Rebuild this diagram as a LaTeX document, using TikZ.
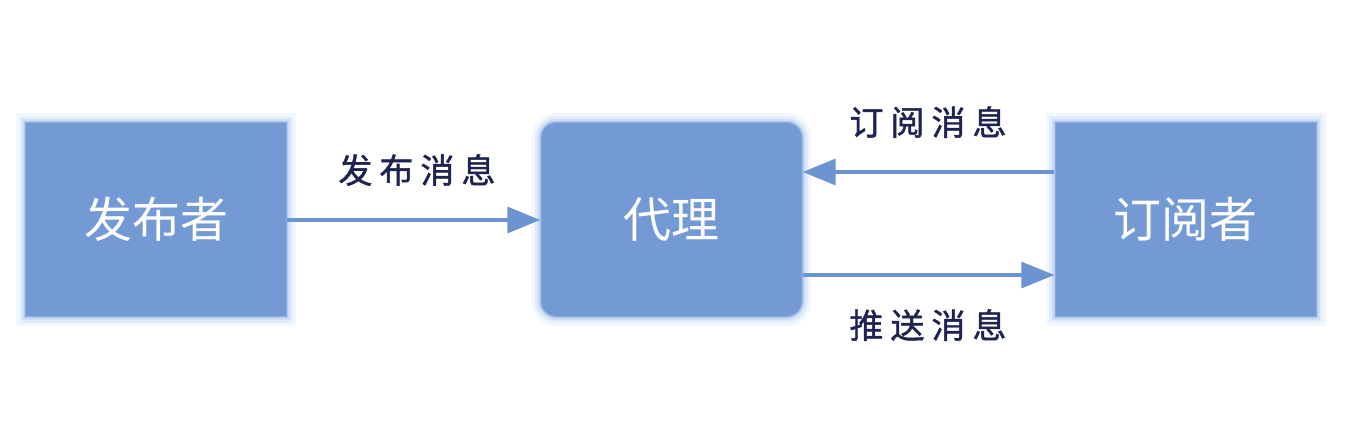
\documentclass[tikz,border=0pt]{standalone}
\usepackage{fontspec}
\newfontfamily\cjk{Noto Sans CJK SC}
\newfontfamily\cjklab[FakeBold=1.2]{Noto Sans CJK SC}
\usetikzlibrary{arrows.meta}
\definecolor{boxblue}{RGB}{116,154,213}
\definecolor{glow}{RGB}{185,208,240}
\definecolor{linkblue}{RGB}{108,148,208}
\definecolor{labelnavy}{RGB}{30,35,80}
\tikzset{
  boxnode/.style={fill=boxblue, minimum width=262pt, minimum height=195pt, inner sep=0pt,
     text=white, font=\cjk\fontsize{48}{48}\selectfont,
     preaction={draw=glow, line width=18pt, opacity=0.18},
     preaction={draw=glow, line width=11pt, opacity=0.3},
     preaction={draw=glow, line width=6pt, opacity=0.5},
     postaction={draw=glow!60!boxblue, line width=2pt, opacity=0.6}},
  link/.style={draw=linkblue, line width=3.4pt, -{Triangle[length=33pt,width=26pt]}},
  lab/.style={text=labelnavy, font=\cjklab\fontsize{34}{34}\selectfont}
}
\begin{document}
\begin{tikzpicture}[x=1pt,y=-1pt]
\useasboundingbox (0,0) rectangle (1347,434);
\node[boxnode] (pub) at (156,219.5) {发布者};
\node[boxnode, rounded corners=16pt] (bro) at (671.5,219.5) {代理};
\node[boxnode] (sub) at (1185.5,219) {订阅者};
\draw[link] (pub.east |- 0,220) -- (bro.west |- 0,220);
\draw[link] (sub.west |- 0,172) -- (bro.east |- 0,172);
\draw[link] (bro.east |- 0,275) -- (sub.west |- 0,275);
\node[lab] (l1) at (417,170) {发\hspace{7pt}布\hspace{7pt}消\hspace{7pt}息};
\node[lab] (l2) at (928,122) {订\hspace{7pt}阅\hspace{7pt}消\hspace{7pt}息};
\node[lab] (l3) at (928,325) {推\hspace{7pt}送\hspace{7pt}消\hspace{7pt}息};
\end{tikzpicture}
\end{document}
